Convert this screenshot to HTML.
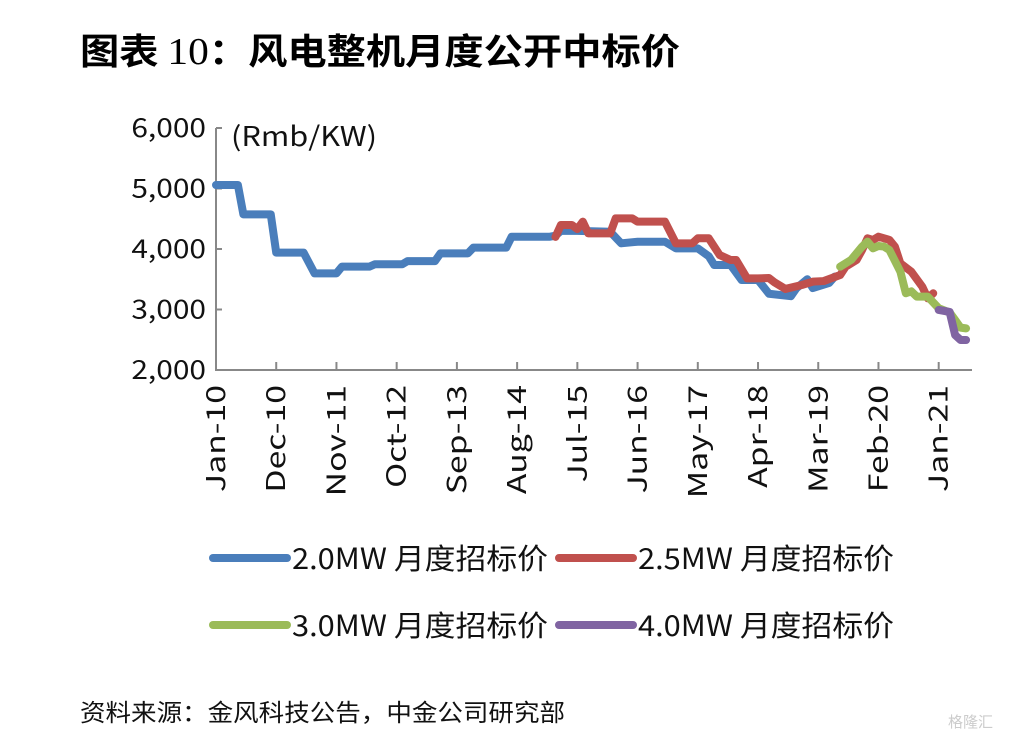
<!DOCTYPE html>
<html><head><meta charset="utf-8"><style>
body{margin:0;background:#fff;width:1014px;height:740px;overflow:hidden;font-family:"Noto Sans CJK SC",sans-serif}
</style></head><body>
<svg id="chart" width="1014" height="740" xmlns="http://www.w3.org/2000/svg">
<text x="80" y="64" font-size="36" font-weight="bold" font-family="'Noto Sans CJK SC',sans-serif" textLength="600" lengthAdjust="spacingAndGlyphs">图表 <tspan font-family="'Liberation Serif',serif" font-weight="normal" font-size="38">10</tspan>：风电整机月度公开中标价</text>
<text x="231" y="146" font-size="27" fill="#111" font-family="'Noto Sans CJK SC',sans-serif" textLength="146" lengthAdjust="spacingAndGlyphs">(Rmb/KW)</text>
<g id="axes" font-family="'Noto Sans CJK SC',sans-serif"></g>
<g id="series"></g>
<g id="legend" font-family="'Noto Sans CJK SC',sans-serif" font-size="29" fill="#111"></g>
<text x="80" y="721" font-size="24" fill="#111" font-family="'Noto Sans CJK SC',sans-serif" textLength="485" lengthAdjust="spacingAndGlyphs">资料来源：金风科技公告，中金公司研究部</text>
<text x="948" y="727" font-size="15" fill="#ccc" font-family="'Noto Sans CJK SC',sans-serif">格隆汇</text>
</svg>
<script>
const yTicks=[2000,3000,4000,5000,6000];
const xLabels=["Jan-10","Dec-10","Nov-11","Oct-12","Sep-13","Aug-14","Jul-15","Jun-16","May-17","Apr-18","Mar-19","Feb-20","Jan-21"];
const blueMonths=[0,4,5,10,11,16,18,22,23,28,29,34,35,40,41,46,47,53,54,61,62,63,66,72,74,77,82,84,88,90,91,94,96,99,101,105,106,108,109,112,113];
const blueValues=[5058,5058,4573,4573,3940,3940,3598,3598,3708,3708,3747,3747,3800,3800,3928,3928,4022,4022,4203,4203,4220,4300,4300,4286,4094,4120,4120,4011,4011,3880,3735,3735,3488,3488,3260,3220,3350,3500,3355,3440,3543];
const redMonths=[62,63,65,66,67,68,72,73,76,77,82,84,87,88,90,92,94,95,97,99,101,102,104,107,109,111,114,115,117,118,119,120,121,123,124,125,127,129,130,131];
const redValues=[4200,4397,4397,4330,4452,4259,4259,4507,4507,4452,4452,4094,4094,4177,4177,3900,3818,3818,3515,3515,3520,3450,3340,3405,3460,3470,3570,3708,3818,3983,4177,4150,4204,4150,4039,3763,3625,3377,3185,3268];
const greenMonths=[114,116,118,119,120,121,122,123,125,126,127,128,130,132,134,135,136,137];
const greenValues=[3708,3820,4039,4122,4011,4050,4040,3983,3625,3268,3300,3212,3212,3020,2950,2826,2700,2688];
const purpleMonths=[132,134,135,136,137];
const purpleValues=[2992,2960,2578,2496,2496];
const ns="http://www.w3.org/2000/svg";
const X0=216,MW=5.475,Y0=370,YS=0.0605;
const xs=m=>X0+m*MW, ys=v=>Y0-(v-2000)*YS;
const axes=document.getElementById('axes');
function mk(tag,attrs,parent){const e=document.createElementNS(ns,tag);for(const k in attrs)e.setAttribute(k,attrs[k]);parent.appendChild(e);return e;}
let e=mk('line',{x1:X0,y1:ys(6000),x2:X0,y2:Y0+1,stroke:'#888','stroke-width':2},axes);


e=mk('line',{x1:X0-1,y1:Y0,x2:972,y2:Y0,stroke:'#888','stroke-width':2},axes);


yTicks.forEach(v=>{
 const t=mk('line',{x1:X0,x2:X0+6,y1:ys(v),y2:ys(v),stroke:'#888','stroke-width':2},axes);
 
 
 const l=mk('text',{x:0,y:0,'text-anchor':'end','font-size':26,fill:'#111',transform:`translate(206,${ys(v)+9}) scale(1.15,1)`},axes);
 l.textContent=v.toLocaleString('en-US');
 
 
});
xLabels.forEach((s,i)=>{
 const x=xs(i*11);
 if(i>0){const t=mk('line',{x1:x,x2:x,y1:Y0,y2:Y0-8,stroke:'#888','stroke-width':2},axes);
 
 }
 const l=mk('text',{x:0,y:0,'text-anchor':'end','font-size':26,fill:'#111',transform:`translate(${x+9},385) rotate(-90) scale(1.3,1)`},axes);
 l.textContent=s;
 
 
});
const series=[[blueMonths,blueValues,'#4a7ebb','series-2mw'],[redMonths,redValues,'#c0504d','series-2-5mw'],[greenMonths,greenValues,'#9bbb59','series-3mw'],[purpleMonths,purpleValues,'#8064a2','series-4mw']];
const sg=document.getElementById('series');
series.forEach(([m,v,c,n])=>{
 const p=mk('polyline',{points:m.map((mm,i)=>xs(mm)+','+ys(v[i])).join(' '),fill:'none',stroke:c,'stroke-width':8,'stroke-linejoin':'round','stroke-linecap':'round'},sg);
 
 
});
const leg=[['2.0MW 月度招标价','#4a7ebb',210,558],['2.5MW 月度招标价','#c0504d',556,558],['3.0MW 月度招标价','#9bbb59',210,625],['4.0MW 月度招标价','#8064a2',556,625]];
const lg=document.getElementById('legend');
leg.forEach(([t,c,x,y])=>{
 const g=mk('g',{},lg);
 
 
 mk('line',{x1:x+3,x2:x+77,y1:y,y2:y,stroke:c,'stroke-width':8,'stroke-linecap':'round'},g);
 const tx=mk('text',{x:x+82,y:y+11,textLength:256,lengthAdjust:'spacingAndGlyphs'},g);
 tx.textContent=t;
});
</script>
</body></html>
